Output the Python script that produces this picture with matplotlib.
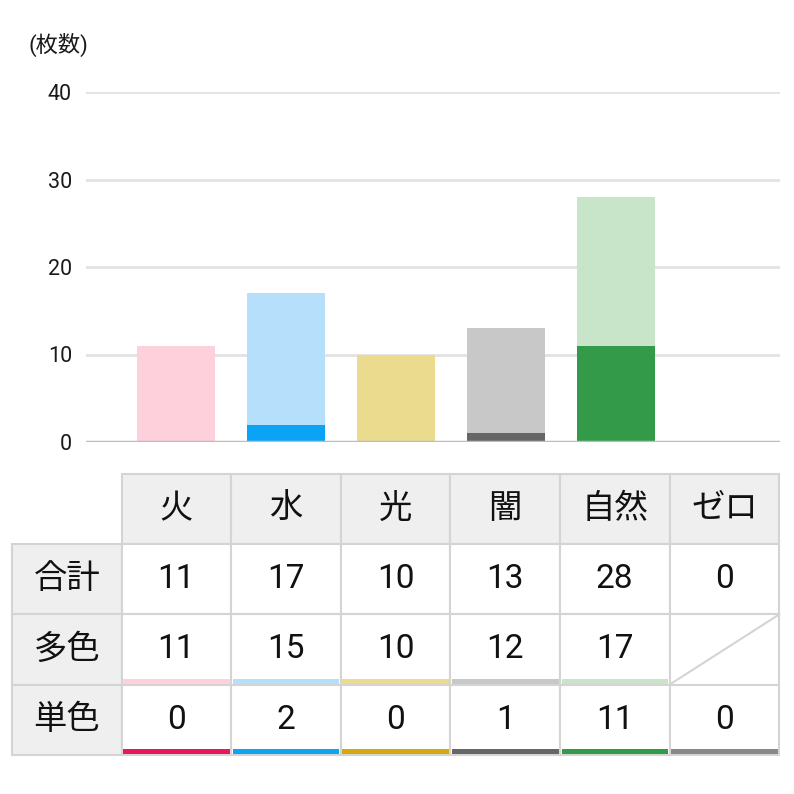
import matplotlib
matplotlib.use('Agg')
from matplotlib import pyplot as plt
from matplotlib.patches import Rectangle

plt.rcParams['font.family'] = ['Roboto', 'Noto Sans CJK JP', 'DejaVu Sans']

categories = ['火', '水', '光', '闇', '自然', 'ゼロ']
multi = [11, 15, 10, 12, 17, 0]
single = [0, 2, 0, 1, 11, 0]
total = [m + s for m, s in zip(multi, single)]
row_labels = ['合計', '多色', '単色']
light_colors = ['#fdd0dc', '#b5dffb', '#ebdb8f', '#c8c8c8', '#c8e4c9', None]
dark_colors = ['#e8175d', '#0aa3f5', '#d4a90c', '#666666', '#339a4a', '#888888']

W = 794
fig = plt.figure(figsize=(7.94, 7.94), dpi=100)

# bar chart, placed in pixel terms
ax = fig.add_axes([86 / W, (W - 442) / W, 694 / W, 350 / W])
x = range(len(categories))
ax.bar(x, single, width=0.71, color=dark_colors, zorder=3)
ax.bar(x, multi, bottom=single, width=0.71,
       color=[c if c else 'none' for c in light_colors], zorder=3)
ax.set_xlim(-0.818, 5.491)
ax.set_ylim(0, 40)
ax.set_yticks([0, 10, 20, 30, 40])
ax.set_xticks([])
for s in ax.spines.values():
    s.set_visible(False)
ax.grid(axis='y', color='#e2e2e2', lw=2, zorder=0)
ax.axhline(0, color='#bdbdbd', lw=2.5, zorder=4)
ax.tick_params(axis='y', length=0, pad=10, labelsize=15.5, labelcolor='#1a1a1a')
fig.text(28 / W, (W - 45) / W, '(枚数)', fontsize=16, color='#1a1a1a', va='center')

# table drawn in an overlay with pixel coords
tab = fig.add_axes([0, 0, 1, 1])
tab.set_xlim(0, W)
tab.set_ylim(W, 0)
tab.axis('off')

col_x = [12 + 109.6 * i for i in range(8)]
row_y = [474 + 70.2 * i for i in range(5)]
border = '#d4d4d4'
head_bg = '#efefef'
fs = 24

def cell(x0, x1, y0, y1, bg):
    tab.add_patch(Rectangle((x0, y0), x1 - x0, y1 - y0, facecolor=bg,
                            edgecolor=border, lw=1.5))

# header row
for j, name in enumerate(categories):
    x0, x1 = col_x[j + 1], col_x[j + 2]
    cell(x0, x1, row_y[0], row_y[1], head_bg)
    tab.text((x0 + x1) / 2, (row_y[0] + row_y[1]) / 2, name, fontsize=fs,
             ha='center', va='center', color='#111111')

rows = [total, multi, single]
for i, (lab, vals) in enumerate(zip(row_labels, rows)):
    y0, y1 = row_y[i + 1], row_y[i + 2]
    cell(col_x[0], col_x[1], y0, y1, head_bg)
    tab.text((col_x[0] + col_x[1]) / 2, (y0 + y1) / 2, lab, fontsize=fs,
             ha='center', va='center', color='#111111')
    for j, v in enumerate(vals):
        x0, x1 = col_x[j + 1], col_x[j + 2]
        cell(x0, x1, y0, y1, 'white')
        if i == 1 and light_colors[j] is None:
            tab.plot([x0, x1], [y1, y0], color=border, lw=1.5)
            continue
        tab.text((x0 + x1) / 2, (y0 + y1) / 2, str(v), fontsize=fs,
                 ha='center', va='center', color='#111111')
        if i > 0:
            c = light_colors[j] if i == 1 else dark_colors[j]
            tab.add_patch(Rectangle((x0 + 1.5, y1 - 6), x1 - x0 - 3, 5,
                                    facecolor=c, edgecolor='none'))

fig.savefig('out.png', dpi=100)
